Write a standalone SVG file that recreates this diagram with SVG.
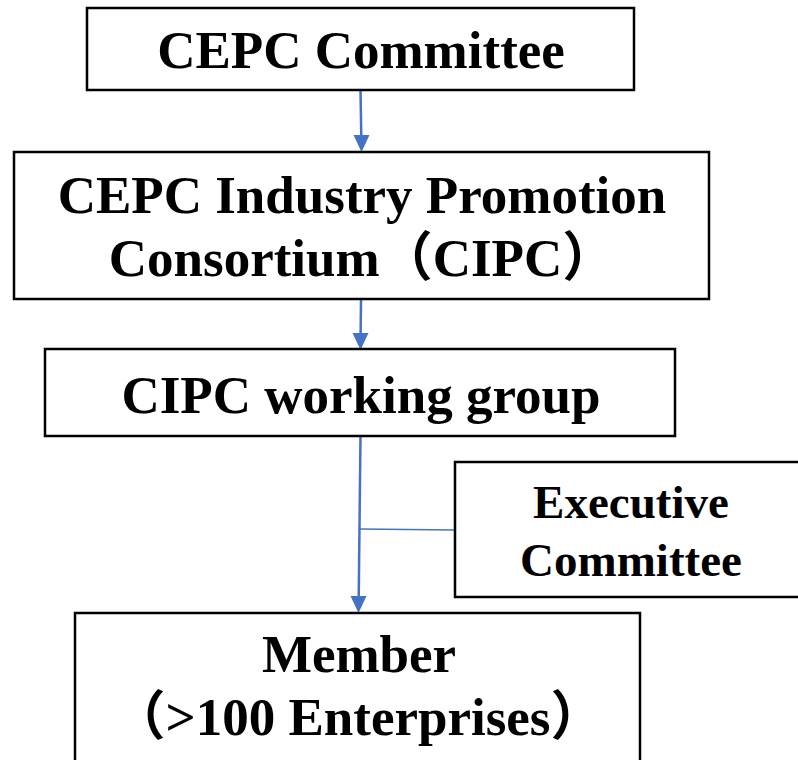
<svg xmlns="http://www.w3.org/2000/svg" width="798" height="760" viewBox="0 0 798 760">
  <style>
    .box { fill: #ffffff; stroke: #000000; stroke-width: 2.5; }
    .lbl { font-family: "Liberation Serif", "Noto Sans CJK SC", serif; font-weight: bold; font-size: 53px; fill: #000000; text-anchor: middle; }
    .small { font-size: 47px; }
    .conn { fill: none; stroke: #4472C4; stroke-width: 2.5; }
    .branch { fill: none; stroke: #4472C4; stroke-width: 1.5; }
    .head { fill: #4472C4; }
  </style>
  <defs>
    <!-- downward arrowhead, tip at the origin -->
    <path id="head" class="head" d="M-8,-17 L8,-17 L0,0 Z"/>
  </defs>

  <rect width="798" height="760" fill="#ffffff"/>

  <g id="connectors">
    <line class="conn" x1="360.5" y1="90" x2="361.3" y2="138"/>
    <use href="#head" x="361.5" y="152"/>
    <line class="conn" x1="361" y1="300" x2="360.6" y2="335"/>
    <use href="#head" x="360.5" y="350"/>
    <line class="conn" x1="360.5" y1="436" x2="358.7" y2="598"/>
    <use href="#head" x="358.5" y="613"/>
    <line class="branch" x1="360" y1="529" x2="455" y2="530"/>
  </g>

  <g id="cepc-committee">
    <rect class="box" x="87" y="8" width="547" height="82"/>
    <text class="lbl" x="361" y="68">CEPC Committee</text>
  </g>

  <g id="cipc">
    <rect class="box" x="14" y="152" width="695" height="147"/>
    <text class="lbl" x="362" y="213">CEPC Industry Promotion</text>
    <text class="lbl" x="362" y="276">Consortium（CIPC）</text>
  </g>

  <g id="working-group">
    <rect class="box" x="45" y="349" width="630" height="87"/>
    <text class="lbl" x="361" y="413">CIPC working group</text>
  </g>

  <g id="executive-committee">
    <rect class="box" x="455" y="462" width="350" height="135"/>
    <text class="lbl small" x="631" y="518">Executive</text>
    <text class="lbl small" x="631" y="576">Committee</text>
  </g>

  <g id="member">
    <rect class="box" x="75" y="613" width="565" height="160"/>
    <text class="lbl" x="359" y="672">Member</text>
    <text class="lbl" x="358" y="735">（&gt;100 Enterprises）</text>
  </g>
</svg>
